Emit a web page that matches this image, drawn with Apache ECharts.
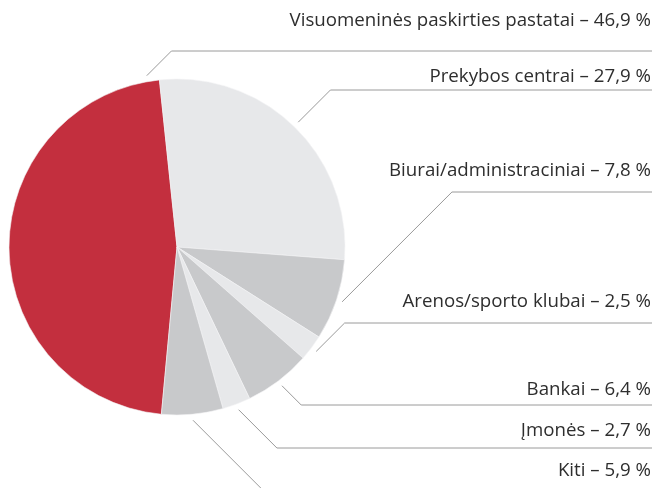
<!DOCTYPE html>
<html>
<head>
<meta charset="utf-8">
<script src="https://cdn.jsdelivr.net/npm/echarts@6/dist/echarts.min.js"></script>
<style>
  html, body { margin: 0; padding: 0; background: #fff; }
  #chart { width: 659px; height: 488px; }
</style>
</head>
<body>
<div id="chart"></div>
<script>
// data
const categories = [
  'Visuomeninės paskirties pastatai',
  'Prekybos centrai',
  'Biurai/administraciniai',
  'Arenos/sporto klubai',
  'Bankai',
  'Įmonės',
  'Kiti',
]
const shares = [46.9, 27.9, 7.8, 2.5, 6.4, 2.7, 5.9]

// label layout (text centre y, leader line y)
const labelTextY = [21, 77, 171, 302, 390, 431, 471]
const labelLineY = [51, 90, 192, 323, 405, 448, 494]

const colors = ['#c32f3e', '#e7e8ea', '#c8c9cb', '#e7e8ea', '#c8c9cb', '#e7e8ea', '#c8c9cb']

const center = [177, 247]
const radius = 168
const total = shares.reduce((a, b) => a + b, 0)
// red slice ends just left of 12 o'clock
const startAngle = 96 + shares[0] / total * 360
const rightEdge = 651

// angle (deg, ECharts convention) where the line leaves each slice
const anchorAngle = (i) => {
  let before = 0
  for (let k = 0; k < i; k++) before += shares[k]
  if (i === 0) return startAngle - shares[0] / total * 360 + 4
  return startAngle - (before + shares[i] / 2) / total * 360
}

const chart = echarts.init(document.getElementById('chart'))

chart.setOption({
  backgroundColor: '#fff',
  animation: false,
  series: [{
    type: 'pie',
    center: center,
    radius: radius,
    startAngle: startAngle,
    clockwise: true,
    avoidLabelOverlap: false,
    itemStyle: { borderColor: '#f4f4f5', borderWidth: 0.6 },
    data: categories.map((name, i) => ({
      name: name,
      value: shares[i],
      itemStyle: { color: colors[i] },
    })),
    label: {
      show: true,
      position: 'outside',
      color: '#2e2e2e',
      fontFamily: 'Open Sans',
      fontSize: 18.7,
      formatter: (p) => p.name + ' – ' + p.value.toFixed(1).replace('.', ',') + ' %',
    },
    labelLine: {
      show: true,
      lineStyle: { color: '#9a9a9a', width: 1 },
    },
    labelLayout: (params) => {
      const i = params.dataIndex
      const a = anchorAngle(i) * Math.PI / 180
      const r = radius + 6
      const sx = center[0] + r * Math.cos(a)
      const sy = center[1] - r * Math.sin(a)
      const ly = labelLineY[i]
      const ex = sx + Math.abs(ly - sy)
      return {
        x: rightEdge,
        y: labelTextY[i],
        align: 'right',
        verticalAlign: 'middle',
        labelLinePoints: [[sx, sy], [ex, ly], [rightEdge + 1, ly]],
      }
    },
  }],
})
</script>
</body>
</html>
